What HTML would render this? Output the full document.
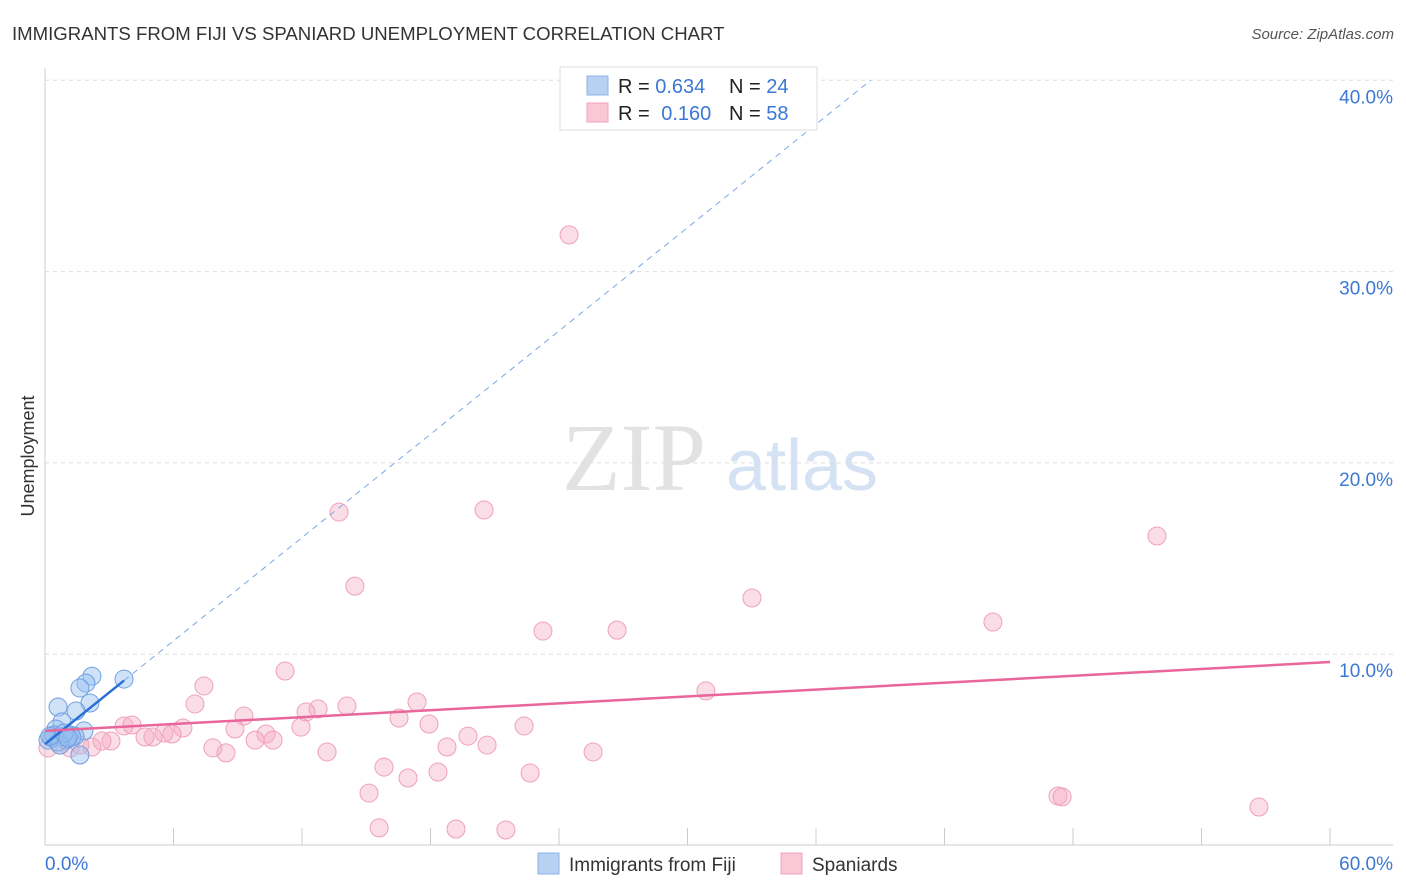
<!DOCTYPE html>
<html><head><meta charset="utf-8"><style>
body{margin:0;background:#fff;font-family:"Liberation Sans",sans-serif;}
svg{display:block}
</style></head><body>
<svg id="chart" width="1406" height="892" xmlns="http://www.w3.org/2000/svg">
<text x="12" y="40" font-size="18.6" fill="#333">IMMIGRANTS FROM FIJI VS SPANIARD UNEMPLOYMENT CORRELATION CHART</text>
<text x="1394" y="39" font-size="15" fill="#555" font-style="italic" text-anchor="end">Source: ZipAtlas.com</text>
<text x="34" y="456" font-size="18" fill="#333" transform="rotate(-90 34 456)" text-anchor="middle">Unemployment</text>
<g>
<text x="634" y="490" font-size="96" fill="#e2e2e2" font-family="Liberation Serif,serif" text-anchor="middle">ZIP</text>
<text x="802" y="490" font-size="72" fill="#d4e2f3" text-anchor="middle">atlas</text>
</g>
<g id="grid"></g>
<g id="axes"></g>
<g id="marks"></g>
<g>
<rect x="560" y="67" width="257" height="63" fill="#fff" stroke="#ddd"/>
<rect x="587" y="76" width="21" height="19" fill="#b7d1f3" stroke="#8cb3e6"/>
<rect x="587" y="103" width="21" height="19" fill="#f9c7d5" stroke="#f0a3ba"/>
<text x="618" y="93" font-size="20" fill="#222">R = <tspan fill="#3b78d4">0.634</tspan></text>
<text x="729" y="93" font-size="20" fill="#222">N = <tspan fill="#3b78d4">24</tspan></text>
<text x="618" y="120" font-size="20" fill="#222">R = <tspan fill="#3b78d4" dx="6">0.160</tspan></text>
<text x="729" y="120" font-size="20" fill="#222">N = <tspan fill="#3b78d4">58</tspan></text>
</g>
<g>
<rect x="538" y="853" width="21" height="21" fill="#b7d1f3" stroke="#8cb3e6"/>
<text x="569" y="871" font-size="19" fill="#333">Immigrants from Fiji</text>
<rect x="781" y="853" width="21" height="21" fill="#f9c7d5" stroke="#f0a3ba"/>
<text x="812" y="871" font-size="19" fill="#333">Spaniards</text>
</g>
</svg>
<script>
const fijiX=[2.19,1.91,1.63,3.69,0.61,2.10,1.45,0.79,0.51,1.82,0.33,0.79,1.17,1.40,0.14,0.98,0.61,0.42,1.26,1.63,0.70,0.23,0.89,1.07];
const fijiY=[8.85,8.49,8.23,8.70,7.24,7.45,7.03,6.46,6.09,5.99,5.62,5.67,5.78,5.72,5.51,5.51,5.41,5.78,5.67,4.73,5.25,5.72,5.88,5.62];
const spanX=[24.47,20.50,13.73,51.92,14.47,33.01,23.25,26.71,44.26,11.21,7.42,30.86,7.00,17.37,14.10,12.75,12.19,9.29,16.53,17.93,3.69,4.06,6.44,8.87,11.95,22.37,5.56,5.93,5.04,4.67,10.32,9.81,10.65,19.75,3.08,2.66,2.19,7.84,8.45,18.77,20.64,13.17,25.59,15.83,18.35,16.95,22.65,15.13,47.30,47.49,56.68,15.60,19.19,21.52,0.14,0.70,1.17,1.63];
const spanY=[31.92,17.54,17.43,16.18,13.56,12.94,11.21,11.26,11.68,9.12,8.34,8.08,7.40,7.50,7.29,7.14,6.98,6.77,6.66,6.35,6.25,6.30,6.14,6.09,6.19,6.25,5.88,5.83,5.67,5.67,5.83,5.51,5.51,5.72,5.46,5.46,5.15,5.10,4.84,5.15,5.25,4.89,4.89,4.10,3.84,3.53,3.79,2.74,2.59,2.54,2.01,0.92,0.86,0.81,5.10,5.25,5.10,5.25];
const yTicks=[10,20,30,40];
const xTickVals=[0,6,12,18,24,30,36,42,48,54,60];
const fijiTrend=[5.3,0.9];
const spanTrend=[5.99,0.06];
const NS="http://www.w3.org/2000/svg";
const sx=v=>45+v*21.417, sy=v=>845.5-v*19.13;
function mk(tag,attrs,parent){const e=document.createElementNS(NS,tag);for(const k in attrs)e.setAttribute(k,attrs[k]);parent.appendChild(e);return e;}
const grid=document.getElementById('grid'),axes=document.getElementById('axes'),marks=document.getElementById('marks');
yTicks.forEach(t=>{
 const l=mk('line',{x1:45,x2:1393,y1:sy(t),y2:sy(t),stroke:'#ddd','stroke-dasharray':'4,4'},grid);
 
 
 const tx=mk('text',{x:1393,y:sy(t)+23,'font-size':19,fill:'#3b78d4','text-anchor':'end'},grid);
 tx.textContent=t.toFixed(1)+'%';
 
 
});
const ya=mk('line',{x1:45,x2:45,y1:68,y2:845,stroke:'#ccc'},axes);


const xa=mk('line',{x1:45,x2:1393,y1:845,y2:845,stroke:'#ccc'},axes);


xTickVals.forEach(t=>{
 const l=mk('line',{x1:sx(t),x2:sx(t),y1:828,y2:845,stroke:'#ccc'},axes);
 
 
});
[[0,'start','0.0%',45],[60,'end','60.0%',1393]].forEach(a=>{
 const tx=mk('text',{x:a[3],y:870,'font-size':19,fill:'#3b78d4','text-anchor':a[1]},axes);
 tx.textContent=a[2];
 
 
});
spanX.forEach((x,i)=>{
 const c=mk('circle',{cx:sx(x),cy:sy(spanY[i]),r:9,fill:'rgba(246,170,195,0.4)',stroke:'#f0a0b8','stroke-width':1},marks);
 
 
});
fijiX.forEach((x,i)=>{
 const c=mk('circle',{cx:sx(x),cy:sy(fijiY[i]),r:9,fill:'rgba(150,190,240,0.45)',stroke:'#6fa0e0','stroke-width':1},marks);
 
 
});
const xEnd=(40-fijiTrend[0])/fijiTrend[1];
const fd=mk('line',{x1:sx(3.69),y1:sy(fijiTrend[0]+fijiTrend[1]*3.69),x2:sx(xEnd),y2:sy(40),stroke:'#7aa8e6','stroke-width':1,'stroke-dasharray':'6,5'},marks);


const fs=mk('line',{x1:sx(0),y1:sy(fijiTrend[0]),x2:sx(3.69),y2:sy(fijiTrend[0]+fijiTrend[1]*3.69),stroke:'#2a6fd6','stroke-width':2.5},marks);


const st=mk('line',{x1:sx(0),y1:sy(spanTrend[0]),x2:sx(60),y2:sy(spanTrend[0]+spanTrend[1]*60),stroke:'#e8669a','stroke-width':2.5},marks);


</script>
</body></html>
